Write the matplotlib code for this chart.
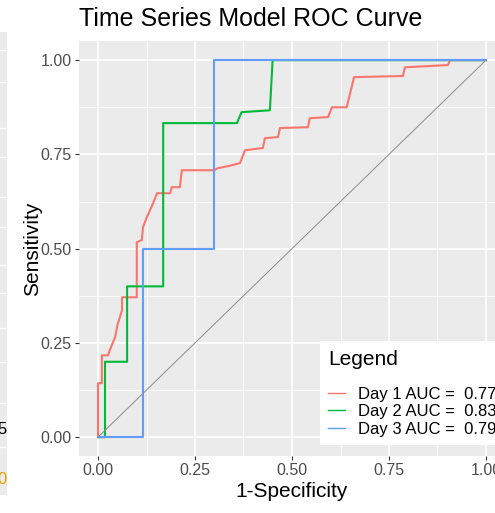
import numpy as np
import matplotlib.pyplot as plt
from matplotlib.lines import Line2D

plt.rcParams['font.family'] = ['Liberation Sans', 'DejaVu Sans']

# ROC points (1-specificity, sensitivity)
day1_fpr = [0.0, 0.0, 0.01, 0.01, 0.026, 0.03, 0.044, 0.05, 0.062, 0.062, 0.10, 0.10,
            0.113, 0.116, 0.126, 0.134, 0.142, 0.152, 0.186, 0.19, 0.211, 0.216, 0.30,
            0.307, 0.34, 0.366, 0.379, 0.425, 0.43, 0.464, 0.469, 0.541, 0.546, 0.593,
            0.603, 0.641, 0.66, 0.786, 0.791, 0.902, 0.907, 1.0]
day1_tpr = [0.0, 0.143, 0.143, 0.217, 0.217, 0.23, 0.265, 0.297, 0.337, 0.371, 0.371, 0.517,
            0.523, 0.557, 0.584, 0.602, 0.62, 0.647, 0.647, 0.663, 0.663, 0.708, 0.708,
            0.713, 0.72, 0.727, 0.761, 0.767, 0.793, 0.796, 0.82, 0.822, 0.846, 0.849,
            0.875, 0.875, 0.955, 0.958, 0.981, 0.987, 1.0, 1.0]

day2_fpr = [0.0, 0.018, 0.018, 0.075, 0.075, 0.168, 0.168, 0.358, 0.37, 0.443, 0.45, 1.0]
day2_tpr = [0.0, 0.0, 0.2, 0.2, 0.4, 0.4, 0.833, 0.833, 0.862, 0.867, 1.0, 1.0]

day3_fpr = [0.0, 0.116, 0.116, 0.30, 0.30, 1.0]
day3_tpr = [0.0, 0.0, 0.5, 0.5, 1.0, 1.0]

labels = ['Day 1 AUC =  0.771', 'Day 2 AUC =  0.836', 'Day 3 AUC =  0.792']
colors = ['#F8766D', '#00BA38', '#619CFF']

ticks = [0.0, 0.25, 0.5, 0.75, 1.0]
tick_labels = ['0.00', '0.25', '0.50', '0.75', '1.00']

# leftover bit of a neighbouring image on the left edge
strip_rows = [50, 82, 128, 157, 197, 227, 265, 293, 328, 362, 403, 447]

fig = plt.figure(figsize=(4.95, 5.13), dpi=100)

ax0 = fig.add_axes([0, 18 / 513, 7 / 495, 463 / 513])
ax0.set_facecolor('#EBEBEB')
ax0.set_ylim(495, 32)
ax0.set_xlim(0, 7)
for r in strip_rows:
    ax0.axhline(r, color='white', lw=1.0)
ax0.text(6.5, 430, '5', ha='right', va='center', fontsize=12, color='black')
ax0.text(6.5, 480, '0', ha='right', va='center', fontsize=12, color='#E69F00')
ax0.set_xticks([])
ax0.set_yticks([])
for s in ax0.spines.values():
    s.set_visible(False)

ax = fig.add_axes([78.6 / 495, 57 / 513, 426.8 / 495, 414.7 / 513])
ax.set_facecolor('#EBEBEB')
ax.set_xlim(-0.05, 1.05)
ax.set_ylim(-0.05, 1.05)
ax.set_xticks(ticks)
ax.set_xticklabels(tick_labels)
ax.set_yticks(ticks)
ax.set_yticklabels(tick_labels)
ax.set_xticks([0.125, 0.375, 0.625, 0.875], minor=True)
ax.set_yticks([0.125, 0.375, 0.625, 0.875], minor=True)
ax.grid(which='major', color='white', lw=1.2)
ax.grid(which='minor', color='white', lw=0.6)
ax.set_axisbelow(True)
for s in ax.spines.values():
    s.set_visible(False)
ax.tick_params(which='major', length=3, width=0.8, color='#333333',
               labelsize=11.5, labelcolor='#4D4D4D', pad=2)
ax.tick_params(which='minor', length=0)

ax.plot(day1_fpr, day1_tpr, color=colors[0], lw=1.5)
ax.plot(day2_fpr, day2_tpr, color=colors[1], lw=1.5)
ax.plot(day3_fpr, day3_tpr, color=colors[2], lw=1.5)
ax.plot([0, 1], [0, 1], color='#8C8C8C', lw=0.7)

ax.set_xlabel('1-Specificity', fontsize=15, labelpad=3)
ax.set_ylabel('Sensitivity', fontsize=15, labelpad=-1)
fig.text(79 / 495, 1 - 19 / 513, 'Time Series Model ROC Curve', fontsize=18,
         ha='left', va='center')

handles = [Line2D([], [], color=c, lw=1.0) for c in colors]
leg = ax.legend(handles, labels, title='Legend', loc='lower left',
                bbox_to_anchor=(0.5656, 0.0265), borderaxespad=0,
                fontsize=12, title_fontsize=15, frameon=True, fancybox=False,
                facecolor='white', edgecolor='none', framealpha=1,
                handlelength=1.0, handletextpad=0.8, labelspacing=0.15,
                borderpad=0.5)
leg._legend_box.align = 'left'
leg._legend_box.sep = 13

fig.savefig('out.png', dpi=100)
